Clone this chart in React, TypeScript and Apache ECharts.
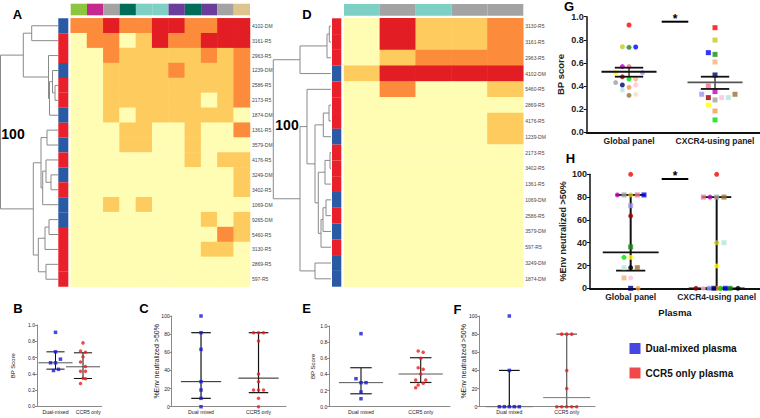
import React, { useEffect, useRef } from 'react';
import * as echarts from 'echarts';

const FONT = '"Liberation Sans", Arial, Helvetica, sans-serif';

// ---------------- Heatmap A ----------------
const rowsA = ['4102-DM','3161-R5','2963-R5','1239-DM','2586-R5','2173-R5','1874-DM','1361-R5','3579-DM','4176-R5','3249-DM','3402-R5','1069-DM','9265-DM','5460-R5','3130-R5','2869-R5','597-R5'];
const heatA = [
  [2,2,3,2,2,3,3,2,2,3,3],
  [0,2,2,0,1,3,2,2,3,3,3],
  [0,0,2,1,1,1,1,1,2,1,2],
  [0,0,1,1,1,1,2,1,1,1,2],
  [0,0,1,1,1,1,1,1,1,1,2],
  [0,0,1,1,1,1,1,1,0,1,2],
  [0,0,1,0,1,1,1,1,1,1,0],
  [0,0,0,1,1,0,0,1,0,0,2],
  [0,0,0,1,1,0,0,1,0,0,0],
  [0,0,0,0,0,0,0,1,0,1,1],
  [0,0,0,0,0,0,0,0,0,0,1],
  [0,0,0,0,0,0,0,0,0,0,1],
  [0,0,1,0,1,0,0,0,0,0,0],
  [0,0,0,0,0,0,0,0,1,0,1],
  [0,0,0,0,0,0,0,0,0,2,1],
  [0,0,0,0,0,0,0,0,1,1,0],
  [0,0,0,0,0,0,0,0,0,0,0],
  [0,0,0,0,0,0,0,0,0,0,0],
];
const envGroupsA = ['#8cc63f','#c7288d','#a3a3a3','#006d5b','#7fd0c4','#7fd0c4','#6a3d9a','#006d5b','#6a3d9a','#a3a3a3','#dcc58e'];
// dendrogram merges: [left, right, height]; number = leaf row, 'mK' = merge K
const mergesA: any[] = [
  [4, 5, 3], [3, 'm0', 5.5], ['m1', 6, 8.5], [2, 'm2', 9.5], [0, 1, 26.3], ['m4', 'm3', 34.7],
  [7, 8, 11], [10, 11, 7], [9, 'm7', 12], ['m8', 12, 15.3], ['m6', 'm9', 17],
  [13, 14, 9], ['m11', 15, 13], [16, 17, 12], ['m12', 'm13', 19.7], ['m10', 'm14', 24.7],
  ['m5', 'm15', 57.5],
];

// ---------------- Heatmap D ----------------
const rowsD = ['3130-R5','3161-R5','2963-R5','4102-DM','5460-R5','2869-R5','4176-R5','1239-DM','2173-R5','3402-R5','1361-R5','1069-DM','2586-R5','3579-DM','597-R5','3249-DM','1874-DM'];
const heatD = [
  [0,3,1,1,2],
  [0,3,1,1,2],
  [0,1,2,2,2],
  [1,3,3,3,3],
  [0,2,0,0,1],
  [0,0,0,0,0],
  [0,0,0,0,1],
  [0,0,0,0,1],
  [0,0,0,0,0],
  [0,0,0,0,0],
  [0,0,0,0,0],
  [0,0,0,0,0],
  [0,0,0,0,0],
  [0,0,0,0,0],
  [0,0,0,0,0],
  [0,0,0,0,0],
  [0,0,0,0,0],
];
const envGroupsD = ['#7fd0c4','#a3a3a3','#7fd0c4','#a3a3a3','#a3a3a3'];
const mergesD: any[] = [
  [0, 1, 1.7], ['m0', 2, 4], ['m1', 3, 31],
  [5, 6, 2], ['m3', 7, 7.7], [8, 9, 1], ['m5', 10, 6], [11, 12, 5], ['m7', 13, 8], ['m8', 14, 10],
  ['m6', 'm9', 12.7], ['m4', 'm10', 16], [4, 'm11', 24], [15, 16, 16], ['m12', 'm13', 31],
  ['m2', 'm14', 57.7],
];

const heatColors = ['#fffdb4', '#fecb5e', '#fc8c3c', '#e21d23'];
const BLUE_BAR = '#2b5aa5';
const RED_BAR = '#e8202a';

// ---------------- B ----------------
const bCats = ['Dual-mixed', 'CCR5 only'];
const bDual = [0.91, 0.67, 0.58, 0.535, 0.535, 0.44, 0.455];
const bDualJit = [0, 0, 1, -1, 0, -0.4, 0.6];
const bCcr5 = [0.78, 0.68, 0.665, 0.61, 0.545, 0.49, 0.43, 0.43, 0.345, 0.34, 0.28];
const bCcr5Jit = [0, -0.5, 0.5, 0, -0.5, 0.5, -0.5, 0.5, 0, 0.5, -0.5];
const bSummary = [[1, 0.535, 0.457, 0.67], [2, 0.486, 0.342, 0.658]];

// ---------------- C ----------------
const cCats = ['Dual mixed', 'CCR5 only'];
const cDual = [100, 81.6, 63.2, 27.6, 18.4, 9.2, 0];
const cDualJit = [0, 0, 0, 0, 0, 0, 0];
const cCcr5 = [81.6, 81.6, 81.6, 72.4, 36, 27.6, 18.4, 18.4, 18.4, 9.2, 0];
const cCcr5Jit = [-1, 0, 1, 0, 0, 0, -1, 0, 1, 0, 0];
const cSummary = [[1, 27.6, 9.2, 81.6], [2, 31.5, 15.5, 81.6]];

// ---------------- E ----------------
const eCats = ['Dual mixed', 'CCR5 only'];
const eDual = [0.905, 0.347, 0.298, 0.298, 0.182, 0.099];
const eDualJit = [0, -1, 0, 1, 0, 0];
const eCcr5 = [0.69, 0.674, 0.6, 0.483, 0.463, 0.405, 0.331, 0.331, 0.29, 0.269, 0.236];
const eCcr5Jit = [-0.5, 0.5, 0, -0.5, 0.5, 0, -1, 1, 0.5, -0.5, -1];
const eSummary = [[1, 0.298, 0.16, 0.483], [2, 0.405, 0.3, 0.607]];

// ---------------- F ----------------
const fCats = ['Dual mixed', 'CCR5 only'];
const fDual = [100, 40, 0, 0, 0, 0, 0];
const fDualJit = [0, 0, -2, -1, 0, 1, 2];
const fCcr5 = [80, 80, 80, 40, 20, 0, 0, 0, 0, 0];
const fCcr5Jit = [-1, 0, 1, 0, 0, -2, -1, 0, 1, 2];
const fSummary = [[1, 0, 0, 40], [2, 10, 0, 80]];

// ---------------- G ----------------
const panelCats = ['Global panel', 'CXCR4-using panel'];
const gGlobal = [0.928, 0.74, 0.735, 0.738, 0.568, 0.568, 0.516, 0.516, 0.48, 0.461, 0.46, 0.43, 0.409, 0.409, 0.389, 0.366, 0.32, 0.328];
const gGlobalJit = [0, -1, 0, 1, -1, 0, -2, 2, -1, 0, 1, -2, -1, 1, 0, -1, 0, 1];
const gGlobalColors = ['#ff0000','#c8c81e','#1a8a1a','#0000ff','#c000c0','#f07090','#ffff00','#9898f0','#a00000','#00e000','#f5b27a','#a0a0a0','#00007a','#ffc0dc','#f59a40','#b4e6dc','#9a7030','#efe0c4'];
const gCxcr4 = [0.905, 0.798, 0.689, 0.674, 0.608, 0.496, 0.4, 0.352, 0.329, 0.3, 0.28, 0.3, 0.3, 0.329, 0.236, 0.184, 0.107];
const gCxcr4Jit = [0, 0, -1, 0, 0, 0, -1, 0, -2, -1, 0, 1, 2, 3, -1, 0, 0];
const gCxcr4Colors = ['#ff0000','#c8c81e','#0000ff','#1a8a1a','#f5b27a','#00007a','#f07090','#c000c0','#9898f0','#a00000','#a0a0a0','#ffc0dc','#b4e6dc','#9a7030','#ffff00','#f59a40','#00e000'];
const gSummary = [[1, 0.524, 0.481, 0.559], [2, 0.432, 0.375, 0.481]];

// ---------------- H ----------------
const hGlobal = [100, 81.9, 81.9, 81.9, 81.9, 81.9, 72.5, 63.5, 36.3, 27.2, 27.2, 18.1, 18.1, 18.1, 9.1, 9.1, 0, 0];
const hGlobalJit = [0, -2, -1, 0, 1, 2, 0, 0, 0, -1, 0, -1, 0, 1, -1, 0, 0, 1.1];
const hGlobalColors = ['#ff0000','#c000c0','#a0a0a0','#c8c81e','#f07090','#0000ff','#9898f0','#a00000','#1a8a1a','#00e000','#ffff00','#b4e6dc','#000000','#9a7030','#f5b27a','#ffc0dc','#00007a','#f59a40'];
const hGlobalSymbols = ['circle','circle','rect','circle','rect','rect','rect','circle','rect','circle','circle','rect','circle','rect','rect','circle','rect','circle'];
const hCxcr4 = [100, 80, 80, 80, 80, 40, 40, 19.6, 0, 0, 0, 0, 0, 0, 0, 0, 0];
const hCxcr4Jit = [0, -2, -1, 0, 1.1, 0, 1.1, 0, -3.1, -2, -1.1, -0.4, 0.3, 0.6, 1.3, 2, 3.2];
const hCxcr4Colors = ['#ff0000','#f07090','#c000c0','#a0a0a0','#9a7030','#c8c81e','#b4e6dc','#ffff00','#a00000','#ffc0dc','#9898f0','#00007a','#f59a40','#00e000','#0000ff','#1a8a1a','#000000'];
const hCxcr4Symbols = ['circle','rect','circle','rect','rect','circle','rect','circle','circle','circle','rect','rect','rect','circle','rect','rect','circle'];
const hSummary = [[1, 31.6, 15.5, 81.9], [2, 0, 0, 80]];

const legendNames = ['Dual-mixed plasma', 'CCR5 only plasma'];
const DUAL_COLOR = '#1818d8';
const CCR5_COLOR = '#ee1c1c';

function dendroSegments(merges: any[]) {
  const pos: { y: number; h: number }[] = [];
  const get = (ref: any) => (typeof ref === 'number' ? { y: ref + 0.5, h: 0 } : pos[parseInt(String(ref).slice(1), 10)]);
  const out: number[][] = [];
  merges.forEach(([a, b, h]) => {
    const A = get(a);
    const B = get(b);
    out.push([A.y, B.y, A.h, B.h, h]);
    pos.push({ y: (A.y + B.y) / 2, h });
  });
  return out;
}

function buildOption() {
  const grids: any[] = [];
  const xAxes: any[] = [];
  const yAxes: any[] = [];
  const series: any[] = [];
  const hidden = { show: false };

  const addGrid = (left: number, top: number, width: number, height: number) => {
    grids.push({ left, top, width, height, containLabel: false });
    return grids.length - 1;
  };

  // ---- heatmap blocks ----
  const heatIdx: number[] = [];
  const addHeatBlock = (cfg: any) => {
    const { rows, heat, groups, merges, dendro, side, main, colBar, maxDist } = cfg;
    const colCats = heat[0].map((_: any, i: number) => 'c' + i);
    // dendrogram
    const gD = addGrid(dendro[0], main[1], dendro[1], main[3]);
    xAxes.push({ type: 'value', gridIndex: gD, min: 0, max: maxDist, inverse: true, show: false });
    yAxes.push({ type: 'value', gridIndex: gD, min: 0, max: rows.length, inverse: true, show: false });
    series.push({
      type: 'custom', xAxisIndex: xAxes.length - 1, yAxisIndex: yAxes.length - 1, clip: false,
      data: dendroSegments(merges),
      renderItem: (_p: any, api: any) => {
        const yL = api.value(0), yR = api.value(1), hL = api.value(2), hR = api.value(3), h = api.value(4);
        const pts = [api.coord([hL, yL]), api.coord([h, yL]), api.coord([h, yR]), api.coord([hR, yR])];
        return { type: 'polyline', shape: { points: pts }, style: { stroke: '#8a8a8a', fill: null, lineWidth: 1 } };
      },
    });
    // side bar
    const gS = addGrid(side[0], main[1], side[1], main[3]);
    xAxes.push({ type: 'value', gridIndex: gS, min: 0, max: 1, show: false });
    yAxes.push({ type: 'category', gridIndex: gS, data: rows, inverse: true, show: false });
    series.push({
      type: 'bar', xAxisIndex: xAxes.length - 1, yAxisIndex: yAxes.length - 1, barCategoryGap: '0%',
      data: rows.map((r: string) => ({ value: 1, itemStyle: { color: r.endsWith('DM') ? BLUE_BAR : RED_BAR } })),
    });
    // heatmap
    const gH = addGrid(main[0], main[1], main[2], main[3]);
    xAxes.push({ type: 'category', gridIndex: gH, data: colCats, show: false });
    yAxes.push({
      type: 'category', gridIndex: gH, data: rows, inverse: true, position: 'right',
      axisLine: hidden, axisTick: hidden, splitLine: hidden,
      axisLabel: { fontSize: 5, color: '#444', margin: 2, interval: 0, fontFamily: FONT },
    });
    series.push({
      type: 'heatmap', xAxisIndex: xAxes.length - 1, yAxisIndex: yAxes.length - 1,
      data: heat.flatMap((row: number[], r: number) => row.map((v, c) => [c, r, v])),
    });
    heatIdx.push(series.length - 1);
    // column group bar
    const gC = addGrid(main[0], colBar[0], main[2], colBar[1]);
    xAxes.push({ type: 'category', gridIndex: gC, data: colCats, show: false });
    yAxes.push({ type: 'value', gridIndex: gC, min: 0, max: 1, show: false });
    series.push({
      type: 'bar', xAxisIndex: xAxes.length - 1, yAxisIndex: yAxes.length - 1, barCategoryGap: '0%',
      data: groups.map((c: string) => ({ value: 1, itemStyle: { color: c } })),
    });
  };

  addHeatBlock({ rows: rowsA, heat: heatA, groups: envGroupsA, merges: mergesA, maxDist: 58,
    dendro: [0, 58], side: [58.3, 10], main: [70.7, 18.3, 179.3, 268.4], colBar: [3.7, 11.6] });
  addHeatBlock({ rows: rowsD, heat: heatD, groups: envGroupsD, merges: mergesD, maxDist: 59,
    dendro: [272, 59], side: [332, 9.3], main: [344, 18.3, 179.3, 268.4], colBar: [4, 11.7] });

  // ---- dot plots ----
  const addDotPanel = (cfg: any) => {
    const g = addGrid(cfg.left, cfg.top, cfg.width, cfg.height);
    const big = cfg.big;
    const axisColor = big ? '#111' : '#8a8a8a';
    xAxes.push({
      type: 'value', gridIndex: g, min: cfg.xmin, max: cfg.xmax,
      axisLine: { show: true, onZero: false, lineStyle: { color: axisColor, width: big ? 2 : 1 } },
      axisTick: hidden, splitLine: hidden,
      axisLabel: {
        customValues: cfg.labelAt || [1, 2], formatter: (v: number) => cfg.cats[Math.round(v) - 1] || '',
        fontSize: big ? 8.5 : 5.2, fontWeight: big ? 'bold' : 'normal', color: '#222', margin: big ? 4 : 3, fontFamily: FONT,
      },
      name: cfg.xName || '', nameLocation: 'middle', nameGap: 19, nameMoveOverlap: false,
      nameTextStyle: { fontSize: 9.5, fontWeight: 'bold', color: '#111', fontFamily: FONT },
    });
    yAxes.push({
      type: 'value', gridIndex: g, min: 0, max: cfg.ymax, interval: cfg.ymax / 5,
      axisLine: { show: true, onZero: false, lineStyle: { color: axisColor, width: big ? 1.5 : 1 } },
      axisTick: { show: true, length: big ? 3 : 2, lineStyle: { color: axisColor } },
      splitLine: hidden,
      axisLabel: {
        formatter: (v: number) => (cfg.ymax === 1 ? v.toFixed(1) : String(Math.round(v))),
        fontSize: big ? 9 : 5, fontWeight: big ? 'bold' : 'normal', color: '#222', margin: big ? 3 : 2, fontFamily: FONT,
      },
      name: cfg.yName, nameLocation: 'middle', nameRotate: 90, nameGap: cfg.nameGap, nameMoveOverlap: false,
      nameTextStyle: { fontSize: cfg.nameSize, fontWeight: big ? 'bold' : 'normal', color: '#222', fontFamily: FONT },
    });
    const xi = xAxes.length - 1, yi = yAxes.length - 1;
    series.push({
      type: 'custom', xAxisIndex: xi, yAxisIndex: yi, clip: false, z: cfg.lineZ || 2,
      data: cfg.summary,
      renderItem: (p: any, api: any) => {
        const x = api.value(0), mid = api.value(1), lo = api.value(2), hi = api.value(3);
        const hw = cfg.midHalf, cw = cfg.capHalf;
        const midColor = cfg.midColors[p.dataIndex], capColor = cfg.capColors[p.dataIndex];
        const seg = (a: number[], b: number[], color: string, w: number) => ({
          type: 'line', shape: { x1: a[0], y1: a[1], x2: b[0], y2: b[1] }, style: { stroke: color, lineWidth: w },
        });
        return {
          type: 'group',
          children: [
            seg(api.coord([x, lo]), api.coord([x, hi]), capColor, cfg.vWidth),
            seg(api.coord([x - cw, lo]), api.coord([x + cw, lo]), capColor, cfg.capWidth),
            seg(api.coord([x - cw, hi]), api.coord([x + cw, hi]), capColor, cfg.capWidth),
            seg(api.coord([x - hw, mid]), api.coord([x + hw, mid]), midColor, cfg.midWidth),
          ],
        };
      },
    });
    cfg.groups.forEach((grp: any, gi: number) => {
      series.push({
        type: 'scatter', xAxisIndex: xi, yAxisIndex: yi, z: 3,
        symbolSize: cfg.symbolSize,
        data: grp.values.map((v: number, i: number) => ({
          value: [gi + 1 + grp.jit[i] * cfg.step, v],
          symbol: grp.symbols ? grp.symbols[i] : grp.symbol,
          itemStyle: { color: grp.colors ? grp.colors[i] : grp.color },
        })),
      });
    });
  };

  addDotPanel({ left: 37, top: 325, width: 64.7, height: 81.3, xmin: 0.327, xmax: 2.68, cats: bCats, labelAt: [1, 2.19], ymax: 1,
    yName: 'BP Score', nameGap: 21, nameSize: 6, step: 0.18, symbolSize: 3.5,
    summary: bSummary, midHalf: 0.62, capHalf: 0.33, midColors: ['#555', '#555'], capColors: ['#111', '#111'], midWidth: 1, capWidth: 1, vWidth: 1,
    groups: [
      { values: bDual, jit: bDualJit, symbol: 'rect', color: DUAL_COLOR },
      { values: bCcr5, jit: bCcr5Jit, symbol: 'circle', color: CCR5_COLOR },
    ] });
  addDotPanel({ left: 171.7, top: 316, width: 114.3, height: 90.7, xmin: 0.49, xmax: 2.478, cats: cCats, ymax: 100,
    yName: '%Env neutralized >50%', nameGap: 12, nameSize: 7, step: 0.087, symbolSize: 3.5,
    summary: cSummary, midHalf: 0.35, capHalf: 0.17, midColors: ['#222', '#222'], capColors: ['#111', '#111'], midWidth: 1, capWidth: 1.2, vWidth: 1.2,
    groups: [
      { values: cDual, jit: cDualJit, symbol: 'rect', color: DUAL_COLOR },
      { values: cCcr5, jit: cCcr5Jit, symbol: 'circle', color: CCR5_COLOR },
    ] });
  addDotPanel({ left: 329.3, top: 326, width: 120.7, height: 80.7, xmin: 0.469, xmax: 2.491, cats: eCats, ymax: 1,
    yName: 'BP Score', nameGap: 13, nameSize: 6, step: 0.084, symbolSize: 3.5,
    summary: eSummary, midHalf: 0.37, capHalf: 0.18, midColors: ['#555', '#555'], capColors: ['#222', '#222'], midWidth: 1, capWidth: 1.2, vWidth: 1.2,
    groups: [
      { values: eDual, jit: eDualJit, symbol: 'rect', color: DUAL_COLOR },
      { values: eCcr5, jit: eCcr5Jit, symbol: 'circle', color: CCR5_COLOR },
    ] });
  addDotPanel({ left: 479.3, top: 316, width: 115.7, height: 90.7, xmin: 0.477, xmax: 2.493, cats: fCats, ymax: 100,
    yName: '%Env neutralized >50%', nameGap: 12, nameSize: 7, step: 0.087, symbolSize: 3.5,
    summary: fSummary, midHalf: 0.41, capHalf: 0.18, midColors: ['#777', '#777'], capColors: ['#111', '#555'], midWidth: 1, capWidth: 1.2, vWidth: 1.2,
    groups: [
      { values: fDual, jit: fDualJit, symbol: 'rect', color: DUAL_COLOR },
      { values: fCcr5, jit: fCcr5Jit, symbol: 'circle', color: CCR5_COLOR },
    ] });
  addDotPanel({ big: true, left: 586.7, top: 16.7, width: 173.3, height: 115.6, xmin: 0.508, xmax: 2.523, cats: panelCats, ymax: 1,
    yName: 'BP score', nameGap: 21, nameSize: 9.5, step: 0.0775, symbolSize: 5, lineZ: 4,
    summary: gSummary, midHalf: 0.32, capHalf: 0.165, midColors: ['#111', '#555'], capColors: ['#111', '#111'], midWidth: 1.8, capWidth: 1.8, vWidth: 1.2,
    groups: [
      { values: gGlobal, jit: gGlobalJit, symbol: 'circle', colors: gGlobalColors },
      { values: gCxcr4, jit: gCxcr4Jit, symbol: 'rect', colors: gCxcr4Colors },
    ] });
  addDotPanel({ big: true, left: 590, top: 174.3, width: 170, height: 114, xmin: 0.527, xmax: 2.504, cats: panelCats, ymax: 100,
    xName: 'Plasma', yName: '%Env neutralized >50%', nameGap: 23, nameSize: 9, step: 0.0775, symbolSize: 5, lineZ: 2,
    summary: hSummary, midHalf: 0.325, capHalf: 0.17, midColors: ['#111', '#111'], capColors: ['#111', '#111'], midWidth: 1.8, capWidth: 1.8, vWidth: 2,
    groups: [
      { values: hGlobal, jit: hGlobalJit, symbols: hGlobalSymbols, colors: hGlobalColors },
      { values: hCxcr4, jit: hCxcr4Jit, symbols: hCxcr4Symbols, colors: hCxcr4Colors },
    ] });

  // legend dummy series
  series.push({ type: 'scatter', name: legendNames[0], data: [], xAxisIndex: 0, yAxisIndex: 0, itemStyle: { color: DUAL_COLOR } });
  series.push({ type: 'scatter', name: legendNames[1], data: [], xAxisIndex: 0, yAxisIndex: 0, itemStyle: { color: CCR5_COLOR } });

  const letter = (t: string, x: number, y: number) => ({
    type: 'text', x, y, style: { text: t, font: `bold 13px ${FONT}`, fill: '#000', textAlign: 'center', textVerticalAlign: 'middle' },
  });
  const boot = (x: number, y: number) => ({
    type: 'text', x, y, style: { text: '100', font: `bold 14px ${FONT}`, fill: '#000', textAlign: 'center', textVerticalAlign: 'middle' },
  });
  const sig = (x1: number, x2: number, y: number) => [
    { type: 'line', shape: { x1, y1: y, x2, y2: y }, style: { stroke: '#000', lineWidth: 2 } },
    { type: 'text', x: (x1 + x2) / 2, y: y - 3, style: { text: '*', font: `bold 12px ${FONT}`, fill: '#000', textAlign: 'center', textVerticalAlign: 'middle' } },
  ];

  return {
    animation: false,
    backgroundColor: '#ffffff',
    textStyle: { fontFamily: FONT },
    grid: grids,
    xAxis: xAxes,
    yAxis: yAxes,
    visualMap: {
      type: 'piecewise', show: false, seriesIndex: heatIdx, dimension: 2,
      pieces: heatColors.map((c, i) => ({ value: i, color: c })),
    },
    legend: {
      data: legendNames, orient: 'vertical', left: 624.5, top: 338, itemWidth: 11, itemHeight: 11, itemGap: 13.5,
      icon: 'rect', textStyle: { fontSize: 10, fontWeight: 'bold', color: '#111', fontFamily: FONT },
    },
    graphic: [
      letter('A', 17.5, 14), letter('B', 18, 308), letter('C', 144, 308), letter('D', 307, 14.5),
      letter('E', 306.5, 308.5), letter('F', 457.5, 309), letter('G', 569, 6.5), letter('H', 570.5, 158),
      boot(13, 133.5), boot(287, 125),
      ...sig(661.7, 688.3, 21.7), ...sig(661.7, 688.3, 179),
    ],
    series,
  };
}

export default function App() {
  const ref = useRef<HTMLDivElement>(null);
  useEffect(() => {
    if (!ref.current) return;
    const chart = echarts.init(ref.current, undefined, { renderer: 'svg' });
    chart.setOption(buildOption() as any);
    return () => chart.dispose();
  }, []);
  return <div ref={ref} style={{ position: 'fixed', left: 0, top: 0, width: 760, height: 418, background: '#fff' }} />;
}
